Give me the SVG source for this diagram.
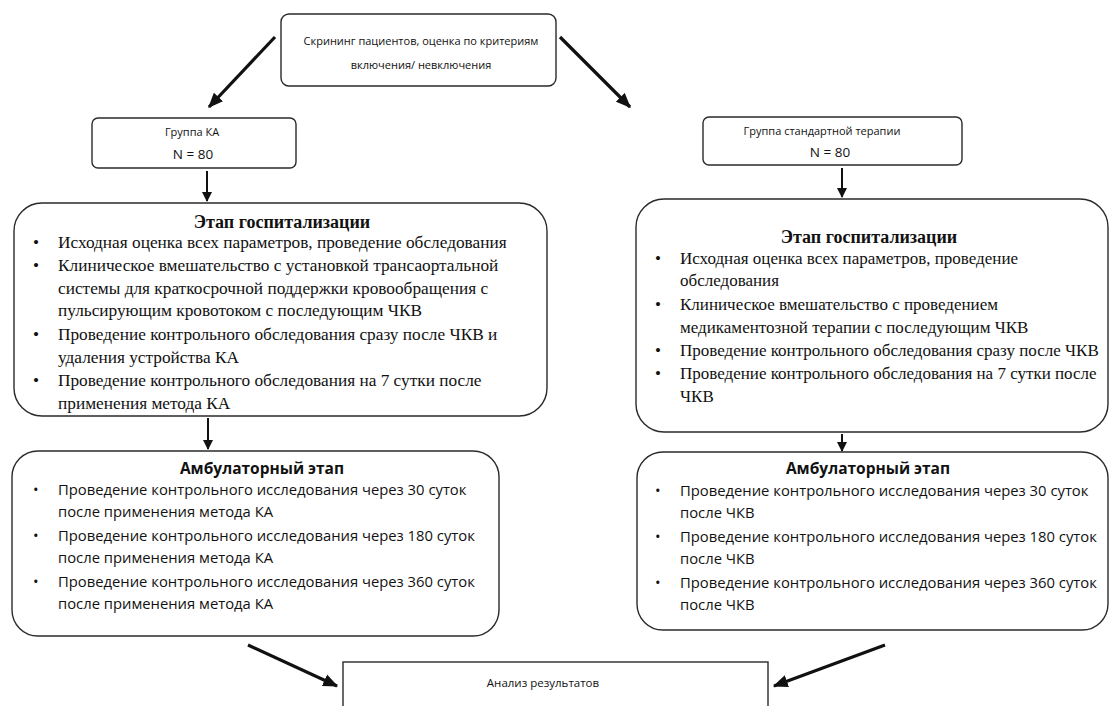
<svg xmlns="http://www.w3.org/2000/svg" width="1115" height="706" viewBox="0 0 1115 706">
<defs>
<marker id="ah" viewBox="0 0 12 10" refX="11" refY="5" markerWidth="15" markerHeight="13" markerUnits="userSpaceOnUse" orient="auto">
<path d="M0,0 L12,5 L0,10 z" fill="#111"/>
</marker>
<marker id="ahs" viewBox="0 0 10 10" refX="9" refY="5" markerWidth="10" markerHeight="10" markerUnits="userSpaceOnUse" orient="auto">
<path d="M0,0 L10,5 L0,10 z" fill="#111"/>
</marker>
<style>
.box{fill:#fff;stroke:#2a2a2a;stroke-width:1.4}
.sans{font-family:"Open Sans","Noto Sans","Liberation Sans",sans-serif;fill:#111}
.serif{font-family:"Liberation Serif","DejaVu Serif",serif;fill:#111}
.hs{font-size:17.3px}
.hs2{font-size:17px}
.ht{font-size:18px;font-weight:bold}
.as{font-size:14.8px}
.at{font-size:15.5px;font-weight:bold}
.small{font-size:11px}
.mid{text-anchor:middle}
.thick{stroke:#111;stroke-width:3.2;fill:none}
.thin{stroke:#111;stroke-width:2;fill:none}
</style>
</defs>
<rect width="1115" height="706" fill="#fff"/>

<g id="connectors">
<line class="thick" x1="275" y1="37" x2="209" y2="107" marker-end="url(#ah)"/>
<line class="thick" x1="560" y1="37" x2="630" y2="107" marker-end="url(#ah)"/>
<line class="thin" x1="207" y1="171" x2="207" y2="201" marker-end="url(#ahs)"/>
<line class="thin" x1="842" y1="168" x2="842" y2="197" marker-end="url(#ahs)"/>
<line class="thin" x1="208" y1="418" x2="208" y2="449" marker-end="url(#ahs)"/>
<line class="thin" x1="842" y1="434" x2="842" y2="451" marker-end="url(#ahs)"/>
<line class="thick" x1="248" y1="645" x2="337" y2="686" marker-end="url(#ah)"/>
<line class="thick" x1="885" y1="645" x2="774" y2="686" marker-end="url(#ah)"/>
</g>

<g id="screening">
<rect class="box" x="281" y="14" width="275" height="72" rx="8"/>
<text class="sans small mid" x="421" y="45">Скрининг пациентов, оценка по критериям</text>
<text class="sans small mid" x="421" y="69">включения/ невключения</text>
</g>

<g id="group-ka">
<rect class="box" x="92" y="118" width="204" height="50" rx="6"/>
<text class="sans small mid" x="192" y="136">Группа КА</text>
<text class="sans mid" font-size="13.5" x="193" y="159">N =  80</text>
</g>

<g id="group-std">
<rect class="box" x="703" y="117" width="259" height="48" rx="6"/>
<text class="sans small mid" x="822" y="135">Группа стандартной терапии</text>
<text class="sans mid" font-size="13.5" x="830" y="157">N =  80</text>
</g>

<g id="hosp-ka">
<rect class="box" x="14" y="203" width="533" height="213" rx="28"/>
<text class="serif ht mid" x="282" y="228">Этап госпитализации</text>
<g class="serif hs">
<text x="33" y="248">•</text><text x="58" y="248">Исходная оценка всех параметров, проведение обследования</text>
<text x="33" y="271">•</text><text x="58" y="271">Клиническое вмешательство с установкой трансаортальной</text>
<text x="58" y="294">системы для краткосрочной поддержки кровообращения с</text>
<text x="58" y="316">пульсирующим кровотоком с последующим ЧКВ</text>
<text x="33" y="340">•</text><text x="58" y="340">Проведение контрольного обследования сразу после ЧКВ и</text>
<text x="58" y="363">удаления устройства КА</text>
<text x="33" y="386">•</text><text x="58" y="386">Проведение контрольного обследования на 7 сутки после</text>
<text x="58" y="409">применения метода КА</text>
</g>
</g>

<g id="hosp-std">
<rect class="box" x="636" y="199" width="472" height="233" rx="28"/>
<text class="serif ht mid" x="869" y="243">Этап госпитализации</text>
<g class="serif hs2">
<text x="655" y="264">•</text><text x="680" y="264">Исходная оценка всех параметров, проведение</text>
<text x="680" y="286">обследования</text>
<text x="655" y="310">•</text><text x="680" y="310">Клиническое вмешательство с проведением</text>
<text x="680" y="333">медикаментозной терапии с последующим ЧКВ</text>
<text x="655" y="356">•</text><text x="680" y="356">Проведение контрольного обследования сразу после ЧКВ</text>
<text x="655" y="379">•</text><text x="680" y="379">Проведение контрольного обследования на 7 сутки после</text>
<text x="680" y="402">ЧКВ</text>
</g>
</g>

<g id="amb-ka">
<rect class="box" x="12" y="451" width="487" height="185" rx="26"/>
<text class="sans at mid" x="262" y="474">Амбулаторный этап</text>
<g class="sans as">
<text x="33" y="495">•</text><text x="58" y="495">Проведение контрольного исследования через 30 суток</text>
<text x="58" y="517">после применения метода КА</text>
<text x="33" y="541">•</text><text x="58" y="541">Проведение контрольного исследования через 180 суток</text>
<text x="58" y="563">после применения метода КА</text>
<text x="33" y="587">•</text><text x="58" y="587">Проведение контрольного исследования через 360 суток</text>
<text x="58" y="609">после применения метода КА</text>
</g>
</g>

<g id="amb-std">
<rect class="box" x="637" y="452" width="471" height="178" rx="26"/>
<text class="sans at mid" x="868" y="474">Амбулаторный этап</text>
<g class="sans as">
<text x="655" y="496">•</text><text x="680" y="496">Проведение контрольного исследования через 30 суток</text>
<text x="680" y="518">после ЧКВ</text>
<text x="655" y="542">•</text><text x="680" y="542">Проведение контрольного исследования через 180 суток</text>
<text x="680" y="564">после ЧКВ</text>
<text x="655" y="588">•</text><text x="680" y="588">Проведение контрольного исследования через 360 суток</text>
<text x="680" y="610">после ЧКВ</text>
</g>
</g>

<g id="analysis">
<rect class="box" x="343" y="662" width="425" height="60"/>
<text class="sans mid" font-size="11.5" x="543" y="687">Анализ результатов</text>
</g>
</svg>
